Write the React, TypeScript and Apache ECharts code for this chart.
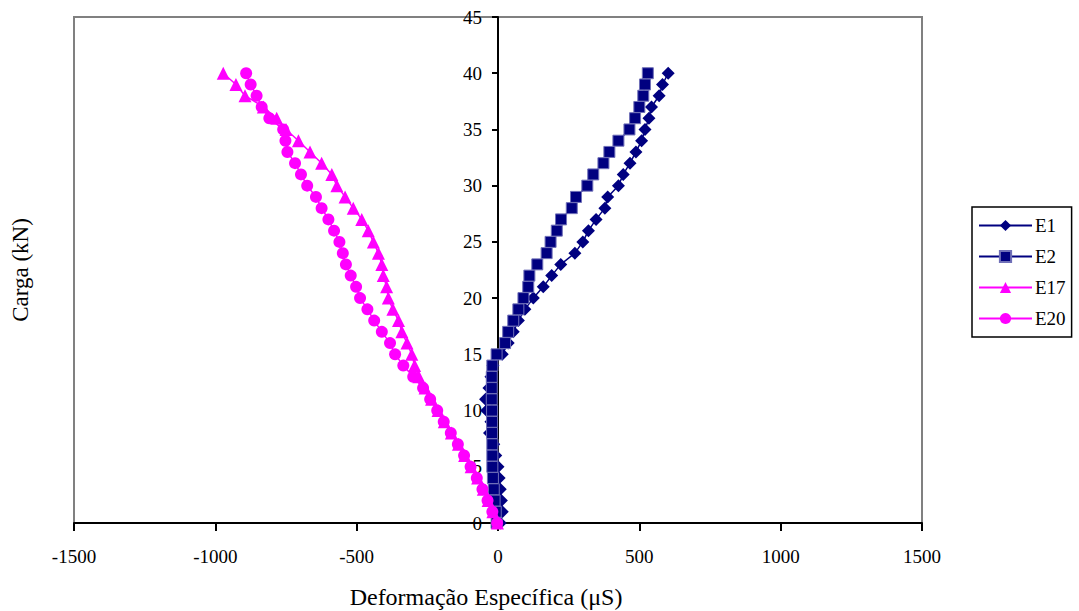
import React, { useEffect, useRef } from "react";
import * as echarts from "echarts";

const loads = [0, 1, 2, 3, 4, 5, 6, 7, 8, 9, 10, 11, 12, 13, 14, 15, 16, 17, 18, 19, 20, 21, 22, 23, 24, 25, 26, 27, 28, 29, 30, 31, 32, 33, 34, 35, 36, 37, 38, 39, 40];

const e1 = [8, 15, 12, 8, 4, 0, -8, -15, -30, -25, -40, -44, -32, -25, -18, 15, 36, 54, 72, 95, 125, 160, 190, 222, 272, 300, 320, 347, 378, 388, 426, 443, 467, 488, 508, 520, 534, 543, 570, 582, 602];
const e2 = [-5, -8, -12, -15, -18, -20, -20, -20, -21, -21, -21, -22, -22, -22, -20, -5, 25, 36, 54, 72, 90, 107, 111, 139, 172, 186, 208, 223, 261, 276, 316, 337, 373, 394, 426, 465, 485, 500, 514, 520, 530];
const e17 = [-2, -18, -35, -52, -72, -95, -118, -140, -165, -190, -212, -235, -258, -280, -295, -305, -322, -340, -352, -372, -388, -394, -406, -411, -423, -441, -459, -482, -512, -541, -570, -588, -624, -665, -706, -750, -783, -830, -895, -927, -972];
const e20 = [-3, -20, -37, -55, -75, -97, -120, -142, -167, -192, -215, -240, -265, -300, -335, -364, -382, -411, -438, -462, -488, -502, -521, -538, -549, -561, -580, -600, -624, -644, -675, -697, -718, -745, -752, -760, -809, -836, -854, -875, -891];

const xTicks = { min: -1500, max: 1500, interval: 500 };
const yTicks = { min: 0, max: 45, interval: 5 };

const NAVY = "#000080";
const MAGENTA = "#FF00FF";
const FONT = "Liberation Serif";

function pairs(xs: number[]) {
  return xs.map((v, i) => [v, loads[i]]);
}

export default function App() {
  const ref = useRef<HTMLDivElement>(null);
  useEffect(() => {
    if (!ref.current) return;
    const chart = echarts.init(ref.current, null, { renderer: "svg" });
    const mk = (name: string, data: number[], color: string, symbol: string, size: number, border?: string) => ({
      name,
      type: "line",
      data: pairs(data),
      symbol,
      symbolSize: size,
      showAllSymbol: true,
      lineStyle: { color, width: 1.5 },
      itemStyle: { color, borderColor: border || color, borderWidth: border ? 1 : 0 },
      emphasis: { disabled: true },
    });
    chart.setOption({
      animation: false,
      backgroundColor: "#ffffff",
      textStyle: { fontFamily: FONT },
      grid: {
        left: 74, right: 157, top: 17, bottom: 88,
        containLabel: false, outerBoundsMode: "none",
        show: true, borderColor: "#808080", borderWidth: 2, backgroundColor: "transparent",
      },
      legend: {
        orient: "vertical",
        left: 972,
        top: 207,
        data: ["E1", "E2", "E17", "E20"],
        itemWidth: 53,
        itemHeight: 14,
        itemGap: 12,
        padding: [9, 6, 9, 6],
        borderColor: "#000000",
        borderWidth: 1.5,
        textStyle: { fontFamily: FONT, fontSize: 19, color: "#000", padding: [0, 0, 0, -2] },
      },
      xAxis: {
        type: "value",
        min: xTicks.min,
        max: xTicks.max,
        interval: xTicks.interval,
        splitLine: { show: false },
        axisLine: { onZero: false, lineStyle: { color: "#000", width: 2 } },
        axisTick: { show: true, length: 8, lineStyle: { color: "#000", width: 2 } },
        axisLabel: { fontFamily: FONT, fontSize: 19, color: "#000", margin: 24, formatter: (v: number) => String(v) },
        name: "Deformação Específica (μS)",
        nameLocation: "middle",
        nameGap: 62,
        nameTextStyle: { fontFamily: FONT, fontSize: 24, color: "#000", padding: [0, 24, 0, 0] },
      },
      yAxis: {
        type: "value",
        position: "left",
        offset: -424,
        min: yTicks.min,
        max: yTicks.max,
        interval: yTicks.interval,
        splitLine: { show: false },
        axisLine: { onZero: false, lineStyle: { color: "#000", width: 2 } },
        axisTick: { show: true, length: 6, lineStyle: { color: "#000", width: 2 } },
        axisLabel: { fontFamily: FONT, fontSize: 19, color: "#000", margin: 16, formatter: (v: number) => String(v) },
        name: "Carga (kN)",
        nameLocation: "middle",
        nameGap: 466,
        nameTextStyle: { fontFamily: FONT, fontSize: 23, color: "#000" },
      },
      series: [
        mk("E1", e1, NAVY, "diamond", 13),
        mk("E2", e2, NAVY, "rect", 11, "#7070b8"),
        mk("E17", e17, MAGENTA, "triangle", 13),
        mk("E20", e20, MAGENTA, "circle", 12),
      ],
    });
    return () => chart.dispose();
  }, []);
  return <div ref={ref} style={{ width: 1079, height: 611, position: "absolute", left: 0, top: 0 }} />;
}
